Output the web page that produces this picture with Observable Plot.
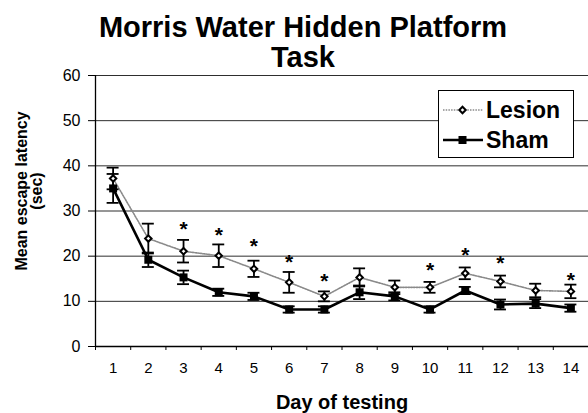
<!DOCTYPE html>
<html>
<head>
<meta charset="utf-8">
<script src="https://cdn.jsdelivr.net/npm/d3@7"></script>
<script src="https://cdn.jsdelivr.net/npm/@observablehq/plot@0.6"></script>
<style>
  html, body { margin: 0; padding: 0; background: #fff; }
  #wrap { position: relative; width: 588px; height: 413px; overflow: hidden; font-family: "Liberation Sans", Arial, sans-serif; }
  #title { box-sizing: border-box; height: 72px; padding-top: 12px; width: 588px; text-align: center;
           font-size: 29px; font-weight: bold; line-height: 30px; color: #000; }
  #title span { display: inline-block; position: relative; left: 9px; }
  #legend { position: absolute; left: 438px; top: 90px; }
</style>
</head>
<body>
<div id="wrap">
  <div id="title"><span>Morris Water Hidden Platform<br>Task</span></div>
  <div id="chart"></div>
  <svg id="legend" width="136" height="68"></svg>
</div>
<script>
// ---- data ----
const days = [1, 2, 3, 4, 5, 6, 7, 8, 9, 10, 11, 12, 13, 14];
const lesionMean = [37.2, 23.9, 21.1, 20.1, 17.2, 14.2, 11.1, 15.3, 13.1, 13.1, 16.2, 14.4, 12.4, 12.2];
const lesionErr  = [2.4, 3.3, 2.5, 2.5, 1.8, 2.3, 1.1, 2.0, 1.5, 1.2, 1.3, 1.3, 1.5, 1.5];
const shamMean   = [35.0, 19.2, 15.3, 12.0, 11.1, 8.2, 8.2, 12.0, 11.1, 8.2, 12.4, 9.3, 9.5, 8.5];
const shamErr    = [3.2, 1.6, 1.5, 0.8, 0.8, 0.7, 0.7, 1.5, 0.9, 0.7, 0.8, 1.1, 1.0, 0.8];
const sigDays    = [3, 4, 5, 6, 7, 10, 11, 12, 14];
const sigY       = [27.0, 25.7, 23.2, 19.7, 15.5, 17.9, 21.2, 19.6, 15.7];
const yTicks     = [0, 10, 20, 30, 40, 50, 60];
const seriesNames = ["Lesion", "Sham"];
const titleText = "Morris Water Hidden Platform Task";
const xLabel = "Day of testing";
const yLabel = "Mean escape latency\n(sec)";

// ---- build tables ----
const xDomain = [days[0] - 0.5, days[days.length - 1] + 0.5];
const boundaries = [...days.map(d => d - 0.5), days[days.length - 1] + 0.5];
const mk = (m, e) => days.map((d, i) => ({day: d, mean: m[i], lo: m[i] - e[i], hi: m[i] + e[i]}));
const lesion = mk(lesionMean, lesionErr);
const sham = mk(shamMean, shamErr);
const sig = sigDays.map((d, i) => ({day: d, y: sigY[i]}));
const cap = 0.17;
const font = "'Liberation Sans', Arial, sans-serif";

function errorBars(data) {
  return [
    Plot.ruleX(data, {x: "day", y1: "lo", y2: "hi", stroke: "#000", strokeWidth: 1.8}),
    Plot.ruleY(data, {y: "hi", x1: d => d.day - cap, x2: d => d.day + cap, stroke: "#000", strokeWidth: 1.8}),
    Plot.ruleY(data, {y: "lo", x1: d => d.day - cap, x2: d => d.day + cap, stroke: "#000", strokeWidth: 1.8})
  ];
}

const chart = Plot.plot({
  width: 588,
  height: 341,
  marginLeft: 95,
  marginRight: 0,
  marginTop: 3,
  marginBottom: 67,
  style: {fontFamily: font, fontSize: "15px", color: "#000", background: "transparent", overflow: "visible"},
  x: {domain: xDomain},
  y: {domain: [yTicks[0], yTicks[yTicks.length - 1]]},
  marks: [
    Plot.ruleY(yTicks.filter(t => t > 0), {stroke: "#2e2e2e", strokeWidth: 1}),
    Plot.ruleY([yTicks[0]], {stroke: "#000", strokeWidth: 1.3}),
    Plot.ruleX([xDomain[0]], {stroke: "#000", strokeWidth: 1.3}),
    Plot.axisY({ticks: yTicks, tickSize: 7, tickPadding: 8, label: null, fontSize: 16, stroke: "#000"}),
    Plot.axisX({ticks: days, tickSize: 0, tickPadding: 16, label: null, fontSize: 15}),
    Plot.axisX({ticks: boundaries, tickSize: 4, tickFormat: () => "", label: null}),
    Plot.line(lesion, {x: "day", y: "mean", stroke: "#8a8a8a", strokeWidth: 1.6, strokeDasharray: "1.5,1.2"}),
    Plot.line(sham, {x: "day", y: "mean", stroke: "#000", strokeWidth: 2.6}),
    ...errorBars(lesion),
    ...errorBars(sham),
    Plot.dot(sham, {x: "day", y: "mean", symbol: "square", r: 4.5, fill: "#000", stroke: "none"}),
    Plot.dot(lesion, {x: "day", y: "mean", symbol: "diamond2", r: 2.9, fill: "#fff", stroke: "#000", strokeWidth: 2}),
    Plot.text(sig, {x: "day", y: "y", text: () => "*", fontSize: 21, fontWeight: "bold", lineAnchor: "middle", dy: 5}),
    Plot.text([xLabel], {frameAnchor: "bottom", text: d => d, dy: 56, fontSize: 20, fontWeight: "bold", lineAnchor: "middle"}),
    Plot.text([yLabel], {frameAnchor: "left", text: d => d, rotate: -90, textAnchor: "middle", dx: -65.5, dy: -20, fontSize: 16, fontWeight: "bold", lineAnchor: "middle", lineHeight: 0.95})
  ]
});
document.getElementById("chart").appendChild(chart);

// ---- legend ----
const lg = d3.select("#legend");
lg.append("rect").attr("x", 0.5).attr("y", 0.5).attr("width", 135).attr("height", 67)
  .attr("fill", "#fff").attr("stroke", "#000").attr("stroke-width", 1);
const rows = [
  {name: seriesNames[0], y: 20, dash: "1.5,1.2", color: "#8a8a8a", w: 1.6},
  {name: seriesNames[1], y: 50, dash: null, color: "#000", w: 2.6}
];
rows.forEach((r, i) => {
  lg.append("line").attr("x1", 5).attr("x2", 45).attr("y1", r.y).attr("y2", r.y)
    .attr("stroke", r.color).attr("stroke-width", r.w).attr("stroke-dasharray", r.dash);
  if (i === 0) {
    lg.append("path").attr("d", d3.symbol(d3.symbolDiamond2, Math.PI * 2.9 * 2.9)())
      .attr("transform", `translate(24.5,${r.y})`).attr("fill", "#fff").attr("stroke", "#000").attr("stroke-width", 2);
  } else {
    lg.append("rect").attr("x", 20.5).attr("y", r.y - 4).attr("width", 8).attr("height", 8).attr("fill", "#000");
  }
  lg.append("text").attr("x", 48).attr("y", r.y + 7.5).text(r.name)
    .attr("font-family", font).attr("font-size", 23).attr("font-weight", "bold").attr("fill", "#000");
});
</script>
</body>
</html>
